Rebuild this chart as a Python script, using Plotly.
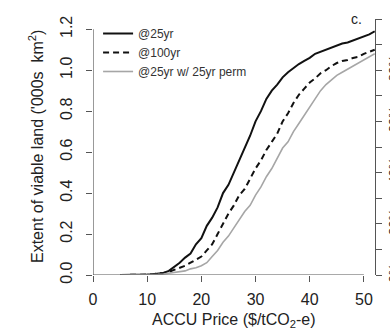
import plotly.graph_objects as go

# ---- data ----
price = list(range(5, 53))
viable_25yr = [0.0, 0.0, 0.0, 0.0, 0.001, 0.002, 0.004, 0.006, 0.01, 0.02,
               0.04, 0.06, 0.085, 0.105, 0.15, 0.18, 0.24, 0.28, 0.33, 0.40,
               0.44, 0.50, 0.56, 0.62, 0.68, 0.75, 0.80, 0.86, 0.90, 0.93,
               0.965, 0.99, 1.01, 1.03, 1.045, 1.06, 1.08, 1.09, 1.10, 1.11,
               1.12, 1.13, 1.135, 1.145, 1.155, 1.165, 1.175, 1.19]
viable_100yr = [0.0, 0.0, 0.0, 0.0, 0.001, 0.002, 0.004, 0.006, 0.01, 0.015,
                0.025, 0.035, 0.045, 0.06, 0.075, 0.09, 0.12, 0.15, 0.20, 0.25,
                0.30, 0.34, 0.39, 0.42, 0.47, 0.52, 0.56, 0.61, 0.65, 0.69,
                0.75, 0.79, 0.84, 0.88, 0.91, 0.94, 0.96, 0.985, 1.0, 1.02,
                1.035, 1.045, 1.05, 1.06, 1.065, 1.08, 1.09, 1.10]
viable_25yr_perm = [0.0, 0.0, 0.0, 0.0, 0.0, 0.001, 0.002, 0.003, 0.005, 0.008,
                    0.012, 0.015, 0.02, 0.03, 0.035, 0.045, 0.06, 0.09, 0.12, 0.16,
                    0.19, 0.23, 0.27, 0.31, 0.34, 0.39, 0.43, 0.48, 0.52, 0.57,
                    0.62, 0.65, 0.70, 0.74, 0.78, 0.82, 0.86, 0.90, 0.93, 0.955,
                    0.975, 0.99, 1.005, 1.02, 1.035, 1.05, 1.065, 1.08]

x_ticks = [0, 10, 20, 30, 40, 50]
y_ticks = [0.0, 0.2, 0.4, 0.6, 0.8, 1.0, 1.2]
y_tick_text = ["0.0", "0.2", "0.4", "0.6", "0.8", "1.0", "1.2"]
pct_ticks = [0.0, 0.2, 0.4, 0.6, 0.8]
pct_text = ["0%", "20%", "40%", "60%", "80%"]

FONT = "Liberation Sans, Arial, sans-serif"
AX = "#555555"

fig = go.Figure()
fig.add_trace(go.Scatter(x=price, y=viable_25yr, mode="lines", name="@25yr",
                         line=dict(color="#111111", width=2)))
fig.add_trace(go.Scatter(x=price, y=viable_100yr, mode="lines", name="@100yr",
                         line=dict(color="#111111", width=2, dash="6px,4px")))
fig.add_trace(go.Scatter(x=price, y=viable_25yr_perm, mode="lines", name="@25yr w/ 25yr perm",
                         line=dict(color="#a6a6a6", width=1.6)))
# invisible trace to carry the right-hand axis
fig.add_trace(go.Scatter(x=[0, 0], y=[0, 1], yaxis="y2", mode="lines",
                         line=dict(width=0), showlegend=False, hoverinfo="skip"))

# axis lines (R-style, detached extents)
fig.add_shape(type="line", xref="x", yref="y", x0=0, x1=0, y0=0, y1=1.2,
              line=dict(color=AX, width=1.2))
fig.add_shape(type="line", xref="x", yref="y", x0=0, x1=50, y0=0, y1=0,
              line=dict(color=AX, width=1.2))

fig.add_annotation(text="c.", xref="paper", yref="paper", x=0.96, y=1.0,
                   xanchor="right", yanchor="middle", showarrow=False,
                   font=dict(family=FONT, size=14, color="#222"))

# axis titles
fig.add_annotation(text="ACCU Price ($/tCO<sub>2</sub>-e)", xref="paper", yref="paper",
                   x=0.5, y=0, yshift=-45, xanchor="center", yanchor="middle",
                   showarrow=False, font=dict(family=FONT, size=16, color="#222"))
fig.add_annotation(text="Extent of viable land ('000s  km<sup>2</sup>)", xref="paper",
                   yref="paper", x=0, xshift=-57, y=0.5, xanchor="center",
                   yanchor="middle", textangle=-90, showarrow=False,
                   font=dict(family=FONT, size=16, color="#222"))

fig.update_layout(
    width=390, height=333,
    margin=dict(l=93, r=15, t=19, b=58, autoexpand=False),
    paper_bgcolor="white", plot_bgcolor="white",
    font=dict(family=FONT, size=16, color="#222"),
    showlegend=True,
    legend=dict(x=0.018, y=1.0, xanchor="left", yanchor="top",
                bgcolor="rgba(0,0,0,0)", font=dict(size=12, color="#333"),
                itemwidth=30, tracegroupgap=0),
    xaxis=dict(range=[0, 52.05], tickvals=x_ticks, ticks="outside", ticklen=6,
               tickcolor=AX, showline=False, showgrid=False, zeroline=False,
               automargin=False, ticklabelstandoff=4),
    yaxis=dict(range=[0, 1.25], tickvals=y_ticks, ticktext=y_tick_text,
               ticks="outside", ticklen=6, tickcolor=AX, tickangle=-90,
               showline=False, showgrid=False, zeroline=False, automargin=False,
               ticklabelstandoff=8),
    yaxis2=dict(range=[0, 1], overlaying="y", side="right", tickvals=pct_ticks,
                ticktext=pct_text, ticks="outside", ticklen=6, tickcolor=AX,
                minor=dict(dtick=0.1, tick0=0, ticks="outside", ticklen=6, tickcolor=AX),
                tickangle=-90, showline=True, linecolor=AX, linewidth=1.2,
                showgrid=False, zeroline=False, tickfont=dict(size=13),
                automargin=False),
)

fig.write_html("out.html", config={"displayModeBar": False},
               post_script="document.body.style.margin='0';document.body.style.overflow='hidden';")
